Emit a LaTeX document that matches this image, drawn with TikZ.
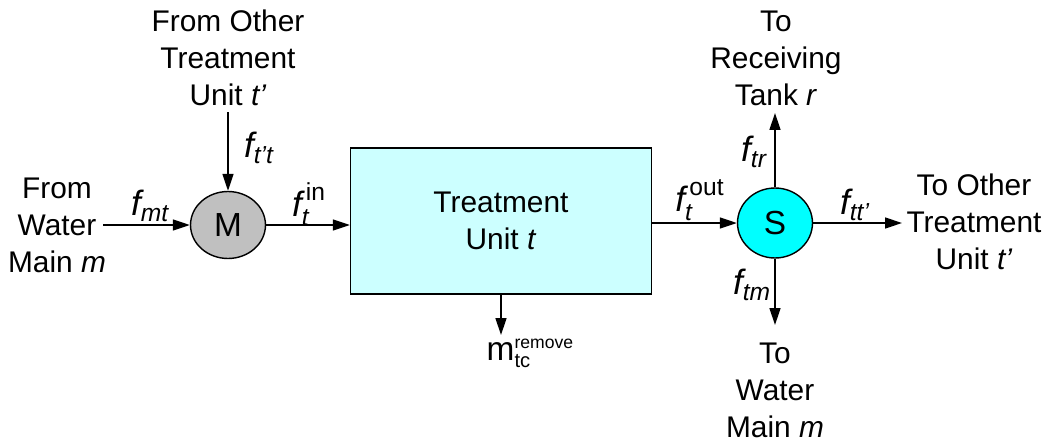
\documentclass[tikz,border=0pt]{standalone}
\usepackage{amsmath}
\usepackage{fontspec}
\setmainfont{Liberation Sans}
\usetikzlibrary{arrows.meta,shapes.geometric}

\definecolor{mixgray}{RGB}{192,192,192}
\definecolor{splitcyan}{RGB}{0,255,255}
\definecolor{unitcyan}{RGB}{204,255,255}

\newcommand{\flw}[1]{$\textit{f}_{\textit{#1}}$}

\tikzset{
  mixer/.style={draw,ellipse,fill=mixgray,minimum width=1.5cm,minimum height=1.34cm,inner sep=0pt,font=\fontsize{19}{23}\selectfont},
  splitter/.style={draw,ellipse,fill=splitcyan,minimum width=1.5cm,minimum height=1.4cm,inner sep=0pt,font=\fontsize{19}{23}\selectfont},
  unitbox/.style={draw,fill=unitcyan,minimum width=6.02cm,minimum height=2.92cm,align=center},
  lbl/.style={align=center,inner sep=0pt},
  flowlbl/.style={inner sep=0pt,font=\fontsize{20}{24}\selectfont}
}

\begin{document}
\begin{tikzpicture}[x=0.02cm,y=-0.02cm,>={Triangle[length=0.34cm,width=0.22cm]},line width=0.8pt,font=\fontsize{17}{21}\selectfont]
  \useasboundingbox (0,0) rectangle (1046,443);
  % units
  \node[mixer] (M) at (228,225) {M};
  \node[unitbox] (T) at (501,221) {Treatment\\Unit \textit{t}};
  \node[splitter] (S) at (775,223) {S};
  % sources and sinks
  \node[lbl] (srcM) at (57,225) {From\\Water\\Main \textit{m}};
  \node[lbl] (srcT) at (228,58) {From Other\\Treatment\\Unit \textit{t’}};
  \node[lbl] (snkR) at (776,58) {To\\Receiving\\Tank \textit{r}};
  \node[lbl] (snkT) at (974,222) {To Other\\Treatment\\Unit \textit{t’}};
  \node[lbl] (snkM) at (775,390) {To\\Water\\Main \textit{m}};
  \coordinate (mIn) at (103,225);
  \coordinate (tIn) at (228,112);
  \coordinate (rOut) at (775,113);
  \coordinate (tOut) at (902,223);
  \coordinate (mOut) at (775,325);
  \coordinate (cOut) at (501,335);
  % streams
  \draw[->] (mIn) -- (M);
  \draw[->] (tIn) -- (M);
  \draw[->] (M) -- (M -| T.west);
  \draw[->] (T.east |- S) -- (S);
  \draw[->] (S) -- (rOut);
  \draw[->] (S) -- (tOut);
  \draw[->] (S) -- (mOut);
  \draw[->] (T.south) -- (cOut);
  % flow labels
  \node[flowlbl] (fmt) at (150,206) {\flw{mt}};
  \node[flowlbl] (ftt) at (259,148) {\flw{t’t}};
  \node[flowlbl] (fin) at (309,204) {$\textit{f}_{\textit{t}}^{\,\textrm{in}}$};
  \node[flowlbl] (fout) at (700,200) {$\textit{f}_{\textit{t}}^{\,\textrm{out}}$};
  \node[flowlbl] (ftr) at (754,152) {\flw{tr}};
  \node[flowlbl] (fttp) at (855,205) {\flw{tt’}};
  \node[flowlbl] (ftm) at (752,285) {\flw{tm}};
  \node[inner sep=0pt,anchor=base west,font=\fontsize{19}{23}\selectfont] (mrem) at (486,360)
    {$\textrm{m}_{\textrm{\fontsize{11.5}{13}\selectfont tc}}^{\textrm{\fontsize{10}{12}\selectfont remove}}$};
\end{tikzpicture}
\end{document}
